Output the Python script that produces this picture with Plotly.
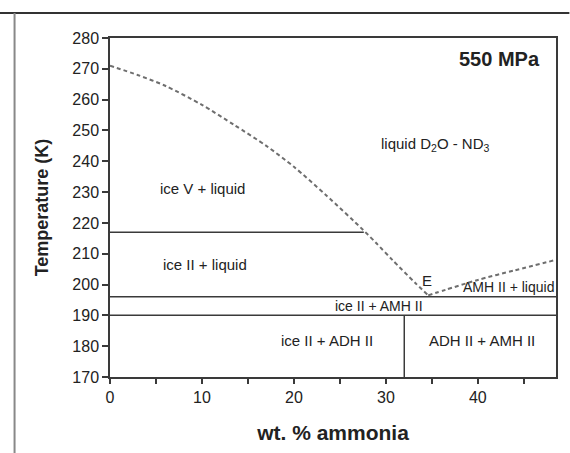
import plotly.graph_objects as go

# Liquidus (ice V / ice II + liquid) down to eutectic E
left_x = [0, 3, 6, 10, 13.5, 17, 20, 23.5, 27.5, 29, 30.7, 33.2, 34.6]
left_T = [271, 268, 264.5, 258.3, 251.8, 245, 238.2, 229, 217.8, 213.3, 208, 200.5, 196.5]
# AMH II liquidus from E
right_x = [34.6, 36.5, 40, 44, 48.5]
right_T = [196.5, 198.3, 201.5, 204.6, 208]

# Solid phase boundaries
iceV_iceII_x = [0, 27.6]
iceV_iceII_T = [217, 217]
eutectic_x = [0, 48.5]
eutectic_T = [196, 196]
peritectic_x = [0, 48.5]
peritectic_T = [190, 190]
adh_x = [32, 32]
adh_T = [170, 190]

labels = ["550 MPa", "liquid D<sub>2</sub>O - ND<sub>3</sub>", "ice V + liquid", "ice II + liquid",
          "E", "AMH II + liquid", "ice II + AMH II", "ice II + ADH II", "ADH II + AMH II"]
label_x = [42.4, 35.4, 10.1, 10.3, 34.5, 43.3, 29.3, 23.6, 40.4]
label_T = [273.2, 245.6, 231.3, 206.5, 201.2, 199.3, 192.9, 182, 182]
label_size = [20, 15, 15, 15, 15, 14, 14, 15, 15]

xticks = [0, 10, 20, 30, 40]
yticks = list(range(170, 281, 10))

FONT = "Liberation Sans, Arial, sans-serif"
LINE = "#3a3a3a"
fig = go.Figure()
fig.add_trace(go.Scatter(x=left_x, y=left_T, mode="lines",
                         line=dict(color="#6e6e6e", width=2, dash="4px,3px", shape="spline", smoothing=0.8),
                         hoverinfo="skip"))
fig.add_trace(go.Scatter(x=right_x, y=right_T, mode="lines",
                         line=dict(color="#6e6e6e", width=2, dash="4px,3px", shape="spline", smoothing=0.8),
                         hoverinfo="skip"))
for xs, ys in [(iceV_iceII_x, iceV_iceII_T), (eutectic_x, eutectic_T),
               (peritectic_x, peritectic_T), (adh_x, adh_T)]:
    fig.add_trace(go.Scatter(x=xs, y=ys, mode="lines",
                             line=dict(color=LINE, width=1.5), hoverinfo="skip"))

for i, (t, x, y, s) in enumerate(zip(labels, label_x, label_T, label_size)):
    fig.add_annotation(x=x, y=y, text=f"<b>{t}</b>" if i == 0 else t, showarrow=False,
                       font=dict(family=FONT, size=s, color="#222"))

# outer page frame lines
fig.add_shape(type="line", xref="paper", yref="paper", x0=-0.25, x1=1.03, y0=1.074, y1=1.074,
              line=dict(color="#333", width=2))
fig.add_shape(type="line", xref="paper", yref="paper", x0=-0.214, x1=-0.214, y0=1.074, y1=-0.23,
              line=dict(color="#888", width=2))

fig.update_layout(
    width=570, height=453,
    margin=dict(l=110, r=12, t=38, b=76),
    paper_bgcolor="white", plot_bgcolor="white",
    showlegend=False,
    font=dict(family=FONT, color="#222", size=15),
    xaxis=dict(range=[0, 48.5], tickvals=xticks, showgrid=False, zeroline=False,
               showline=True, mirror=True, linecolor=LINE, linewidth=1.5,
               ticks="outside", ticklen=5, tickcolor=LINE, tickwidth=1.5,
               minor=dict(dtick=5, ticks="outside", ticklen=5, tickcolor=LINE, tickwidth=1.5),
               tickfont=dict(size=16),
               title=dict(text="<b>wt. % ammonia</b>", font=dict(size=21), standoff=20)),
    yaxis=dict(range=[170, 280], tickvals=yticks, showgrid=False, zeroline=False,
               showline=True, mirror=True, linecolor=LINE, linewidth=1.5,
               ticks="outside", ticklen=6, tickcolor=LINE, tickwidth=1.5,
               tickfont=dict(size=16),
               title=dict(text="<b>Temperature (K)</b>", font=dict(size=18), standoff=19)),
)

fig.write_html("out.html")
